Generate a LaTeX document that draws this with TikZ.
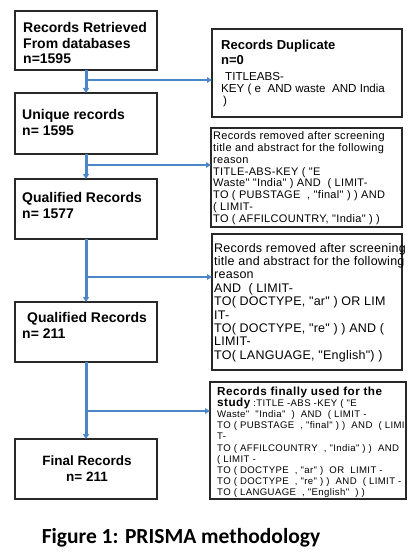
\documentclass[tikz,border=0pt]{standalone}
\usepackage{fontspec}
\setmainfont{Liberation Sans}
\newfontfamily\capfont{Carlito}
\newfontfamily\rtwo[LetterSpace=3.0]{Liberation Sans}
\newfontfamily\rthree[LetterSpace=2.0]{Liberation Sans}
\newfontfamily\rfour[LetterSpace=4.0]{Liberation Sans}
\usetikzlibrary{arrows.meta}
\definecolor{flowblue}{RGB}{74,134,200}
\definecolor{boxline}{RGB}{40,40,40}
\tikzset{
  box/.style={draw=boxline, line width=1.4pt, rectangle, inner sep=0pt, outer sep=0pt, anchor=north west},
  lbl/.style={anchor=base west, inner sep=0pt, align=left},
  trunk/.style={draw=flowblue, line width=3pt, -{Triangle[length=5pt,width=6pt]}},
  branch/.style={draw=flowblue, line width=2.2pt, -{Triangle[length=5pt,width=5.5pt]}},
  lefttxt/.style={lbl, font=\fontsize{14}{15.5}\selectfont\bfseries},
}
\begin{document}
\begin{tikzpicture}[x=1pt,y=-1pt]
\useasboundingbox (0,0) rectangle (417,559);
% left column boxes
\node[box, minimum width=142pt, minimum height=59pt] (b1) at (15,11) {};
\node[box, minimum width=142pt, minimum height=61pt] (b2) at (15,93) {};
\node[box, minimum width=142pt, minimum height=60pt] (b3) at (15,179) {};
\node[box, minimum width=142pt, minimum height=60pt] (b4) at (15,302) {};
\node[box, minimum width=142pt, minimum height=60pt] (b5) at (15,439) {};
% right column boxes
\node[box, minimum width=190pt, minimum height=88pt] (r1) at (212,29) {};
\node[box, minimum width=191pt, minimum height=99pt] (r2) at (211,128) {};
\node[box, minimum width=190pt, minimum height=136pt] (r3) at (212,234) {};
\node[box, minimum width=196pt, minimum height=117pt] (r4) at (210,382) {};
% left texts (base anchor = last line baseline)
\node[lefttxt] (t1) at (23,64) {Records Retrieved\\From databases\\n=1595};
\node[lefttxt] (t2) at (22,135.1) {Unique records\\n= 1595};
\node[lefttxt] (t3) at (22,218.1) {Qualified Records\\n= 1577};
\node[lefttxt, font=\fontsize{14}{16}\selectfont\bfseries] (t4) at (22,338.6) {\hspace{5pt}Qualified Records\\n= 211};
\node[anchor=base, inner sep=0pt, align=center, font=\fontsize{13.5}{16}\selectfont\bfseries] (t5) at (87,481.5) {Final Records\\n= 211};
% right texts
\node[lbl, font=\fontsize{13}{15}\selectfont\bfseries] (u1) at (221,64.3) {Records Duplicate\\n=0};
\node[lbl, font=\fontsize{11.6}{12}\selectfont] (u1b) at (221,104.8) {\hspace{4pt}TITLEABS-\\KEY ( e~ AND waste~ AND India\\\hspace{2pt})};
\node[lbl, font=\rtwo\fontsize{11}{11.8}\selectfont] (u2) at (213,222.2) {Records removed after screening\\title and abstract for the following\\reason\\TITLE-ABS-KEY ( "E\\Waste" "India" ) AND~ ( LIMIT-\\TO ( PUBSTAGE~ , "final" ) ) AND\\( LIMIT-\\TO ( AFFILCOUNTRY, "India" ) )};
\node[lbl, font=\rthree\fontsize{12.5}{13.4}\selectfont] (u3) at (214,359.3) {Records removed after screening\\title and abstract for the following\\reason\\AND~ ( LIMIT-\\TO( DOCTYPE, "ar" ) OR LIM\\IT-\\TO( DOCTYPE, "re" ) ) AND (\\LIMIT-\\TO( LANGUAGE, "English") )};
\node[lbl, font=\rfour\fontsize{9.6}{11.2}\selectfont] (u4) at (217,495.8) {{\bfseries\fontsize{11.7}{11.2}\selectfont Records finally used for the}\\{\bfseries\fontsize{11.7}{11.2}\selectfont study} :TITLE -ABS -KEY ( "E\\Waste"~ "India"~ )~ AND~ ( LIMIT -\\TO ( PUBSTAGE~ , "final" ) )~ AND~ ( LIMI\\T-\\TO ( AFFILCOUNTRY~ , "India" ) )~ AND\\( LIMIT -\\TO ( DOCTYPE~ , "ar" )~ OR~ LIMIT -\\TO ( DOCTYPE~ , "re" ) )~ AND~ ( LIMIT -\\TO ( LANGUAGE~ , "English"~ ) )};
% caption
\node[anchor=base, inner sep=0pt, font=\capfont\fontsize{21.5}{24}\selectfont\bfseries] (cap) at (181,543) {Figure 1: PRISMA methodology};
% trunk arrows
\draw[trunk] (b1.south) -- (b2.north);
\draw[trunk] (b2.south) -- (b3.north);
\draw[trunk] (b3.south) -- (b4.north);
\draw[trunk] (b4.south) -- (b4.south |- b5.north);
% branch arrows
\coordinate (j1) at (86,80);
\coordinate (j2) at (86,165);
\coordinate (j3) at (86,277);
\coordinate (j4) at (86,411);
\draw[branch] (j1) -- (j1 -| r1.west);
\draw[branch] (j2) -- (j2 -| r2.west);
\draw[branch] (j3) -- (j3 -| r3.west);
\draw[branch] (j4) -- (j4 -| r4.west);
\end{tikzpicture}
\end{document}
